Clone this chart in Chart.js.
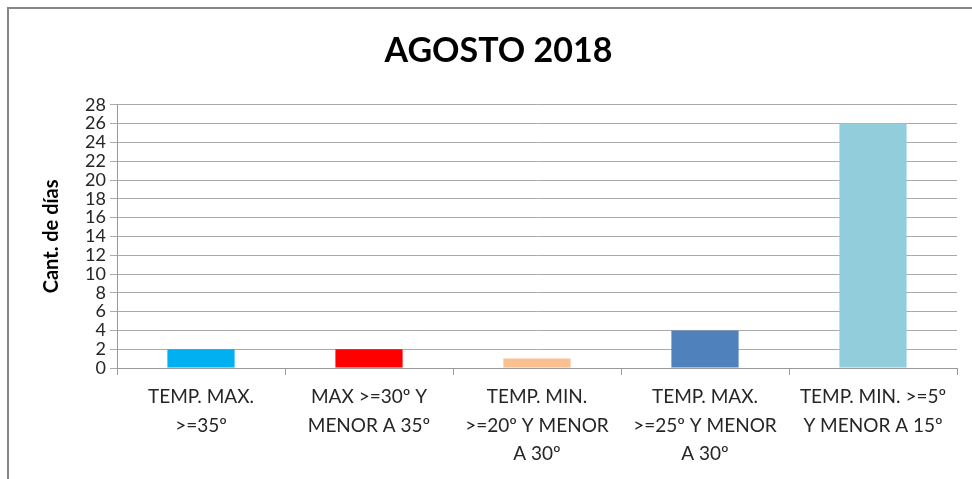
<!DOCTYPE html>
<html>
<head>
<meta charset="utf-8">
<script src="https://cdn.jsdelivr.net/npm/chart.js@4"></script>
<style>
  html, body { margin: 0; padding: 0; background: #fff; }
  #wrap { position: relative; width: 972px; height: 479px; overflow: hidden; }
  #frame { position: absolute; left: 7px; top: 7px; width: 980px; height: 490px;
           border-left: 2px solid #868686; border-top: 2px solid #868686; }
  canvas { position: absolute; left: 0; top: 0; }
</style>
</head>
<body>
<div id="wrap">
  <div id="frame"></div>
  <canvas id="chart" width="972" height="479"></canvas>
</div>
<script>
const categories = [
  ['TEMP. MAX.', '>=35º'],
  ['MAX >=30º Y', 'MENOR A 35º'],
  ['TEMP. MIN.', '>=20º Y MENOR', 'A 30º'],
  ['TEMP. MAX.', '>=25º Y MENOR', 'A 30º'],
  ['TEMP. MIN. >=5º', 'Y MENOR A 15º']
];
const dias = [2, 2, 1, 4, 26];
const barColors = ['#00b0f0', '#ff0000', '#fac090', '#4f81bd', '#92cddc'];
const yTicks = { min: 0, max: 28, step: 2 };

const font = 'Lato, "Open Sans", sans-serif';

new Chart(document.getElementById('chart').getContext('2d'), {
  type: 'bar',
  data: {
    labels: categories,
    datasets: [{
      label: 'Cant. de días',
      data: dias,
      backgroundColor: barColors,
      categoryPercentage: 1,
      barPercentage: 0.4
    }]
  },
  options: {
    responsive: false,
    animation: false,
    layout: { padding: { left: 40, right: 15, top: 0, bottom: 0 } },
    plugins: {
      legend: { display: false },
      tooltip: { enabled: false },
      title: {
        display: true,
        text: 'AGOSTO 2018',
        color: '#000',
        font: { family: font, size: 34, weight: 'bold', lineHeight: 1.2 },
        padding: { top: 31, bottom: 33 }
      }
    },
    scales: {
      x: {
        grid: { drawOnChartArea: false, tickLength: 7, color: '#999', offset: true },
        border: { color: '#999' },
        ticks: { color: '#262626', font: { family: font, size: 19, lineHeight: 1.5 }, maxRotation: 0, autoSkip: false, padding: 8 },
        afterFit: s => { s.height = 111; }
      },
      y: {
        min: yTicks.min,
        max: yTicks.max,
        grid: { color: '#aaa', tickLength: 7 },
        border: { color: '#999' },
        ticks: { stepSize: yTicks.step, autoSkip: false, color: '#262626', font: { family: font, size: 18, lineHeight: 1 }, padding: 4 },
        title: {
          display: true,
          text: 'Cant. de días',
          color: '#000',
          font: { family: font, size: 20, weight: 'bold' },
          padding: { top: 0, bottom: 10 }
        },
        afterFit: s => { s.width = 77; }
      }
    }
  }
});
</script>
</body>
</html>
